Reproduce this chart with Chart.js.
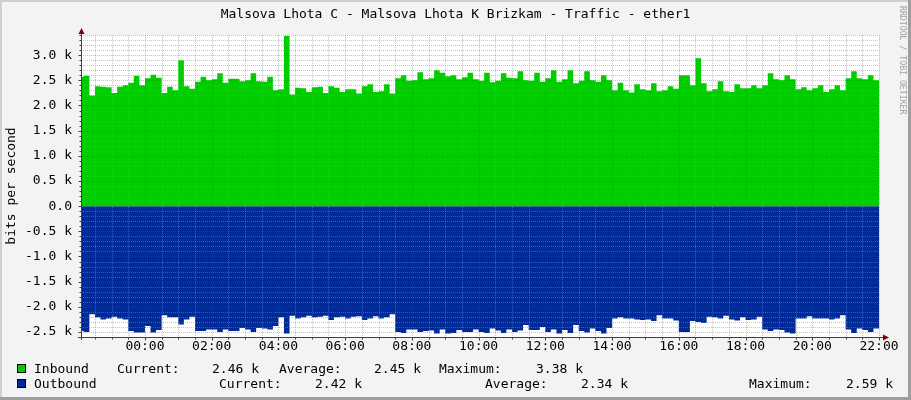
<!DOCTYPE html>
<html>
<head>
<meta charset="utf-8">
<title>Malsova Lhota C - Traffic - ether1</title>
<script src="https://cdn.jsdelivr.net/npm/chart.js@4.4.1/dist/chart.umd.min.js"></script>
<style>
  html, body { margin: 0; padding: 0; background: #f3f3f3; }
  #chart { display: block; }
</style>
</head>
<body>
<canvas id="chart" width="911" height="400"></canvas>
<script>
// traffic in k bits/s, one value per 10 minutes, ending 22:00
const inbound = [
  2.57, 2.57, 2.59, 2.20, 2.38, 2.37, 2.36, 2.25, 2.37, 2.40, 2.45, 2.59, 2.40, 2.54, 2.61, 2.55,
  2.25, 2.37, 2.30, 2.90, 2.38, 2.33, 2.47, 2.57, 2.50, 2.52, 2.64, 2.45, 2.53, 2.53, 2.48, 2.50,
  2.64, 2.48, 2.47, 2.57, 2.30, 2.32, 3.38, 2.22, 2.35, 2.34, 2.27, 2.36, 2.37, 2.25, 2.38, 2.35,
  2.27, 2.32, 2.32, 2.24, 2.38, 2.42, 2.27, 2.28, 2.42, 2.24, 2.54, 2.60, 2.49, 2.50, 2.66, 2.52,
  2.54, 2.70, 2.65, 2.58, 2.60, 2.52, 2.56, 2.65, 2.52, 2.49, 2.65, 2.46, 2.49, 2.64, 2.55, 2.54,
  2.68, 2.50, 2.49, 2.65, 2.47, 2.54, 2.70, 2.47, 2.52, 2.70, 2.44, 2.49, 2.68, 2.50, 2.47, 2.60,
  2.50, 2.30, 2.45, 2.30, 2.26, 2.42, 2.32, 2.30, 2.44, 2.28, 2.30, 2.38, 2.33, 2.60, 2.60, 2.40,
  2.94, 2.44, 2.28, 2.32, 2.48, 2.28, 2.27, 2.42, 2.34, 2.34, 2.40, 2.34, 2.40, 2.64, 2.52, 2.50,
  2.60, 2.52, 2.32, 2.36, 2.30, 2.34, 2.40, 2.27, 2.32, 2.40, 2.30, 2.54, 2.68, 2.54, 2.52, 2.60,
  2.50
];
const outbound = [
  2.48, 2.48, 2.50, 2.15, 2.21, 2.25, 2.23, 2.20, 2.23, 2.25, 2.48, 2.51, 2.51, 2.38, 2.51, 2.46,
  2.17, 2.21, 2.21, 2.35, 2.25, 2.20, 2.48, 2.48, 2.45, 2.45, 2.50, 2.45, 2.48, 2.48, 2.42, 2.45,
  2.50, 2.42, 2.43, 2.45, 2.38, 2.21, 2.53, 2.18, 2.23, 2.21, 2.18, 2.21, 2.20, 2.18, 2.26, 2.21,
  2.20, 2.23, 2.20, 2.19, 2.26, 2.23, 2.19, 2.23, 2.21, 2.15, 2.50, 2.52, 2.45, 2.45, 2.50, 2.48,
  2.47, 2.53, 2.45, 2.53, 2.52, 2.46, 2.50, 2.50, 2.45, 2.50, 2.52, 2.43, 2.47, 2.52, 2.45, 2.50,
  2.47, 2.36, 2.46, 2.46, 2.40, 2.50, 2.45, 2.53, 2.46, 2.52, 2.36, 2.48, 2.51, 2.43, 2.48, 2.53,
  2.42, 2.23, 2.21, 2.23, 2.23, 2.25, 2.26, 2.25, 2.28, 2.17, 2.23, 2.23, 2.27, 2.50, 2.50, 2.28,
  2.30, 2.32, 2.20, 2.21, 2.23, 2.18, 2.25, 2.27, 2.21, 2.26, 2.25, 2.20, 2.45, 2.48, 2.45, 2.46,
  2.51, 2.53, 2.23, 2.23, 2.19, 2.23, 2.23, 2.23, 2.25, 2.23, 2.17, 2.45, 2.52, 2.43, 2.46, 2.50,
  2.43
];
// minutes relative to 00:00
const times = inbound.map((v, i) => -120 + 10 * i);

const xTickValues = [0, 120, 240, 360, 480, 600, 720, 840, 960, 1080, 1200, 1320];
const xTickLabels = ["00:00", "02:00", "04:00", "06:00", "08:00", "10:00",
  "12:00", "14:00", "16:00", "18:00", "20:00", "22:00"];
const yTickValues = [-2.5, -2, -1.5, -1, -0.5, 0, 0.5, 1, 1.5, 2, 2.5, 3];

const inboundStats = ["2.46 k", "2.45 k", "3.38 k"];
const outboundStats = ["2.42 k", "2.34 k", "2.59 k"];

const titleText = "Malsova Lhota C - Malsova Lhota K Brizkam - Traffic - ether1";
const FONT = '"DejaVu Sans Mono", monospace';
const GREEN = "#00cc00";
const BLUE = "#002a97";

function line(ctx, x0, y0, x1, y1) {
  ctx.beginPath();
  ctx.moveTo(x0, y0);
  ctx.lineTo(x1, y1);
  ctx.stroke();
}

const rrdDecor = {
  id: "rrdDecor",
  beforeDraw(chart) {
    const { ctx, chartArea: a, width, height } = chart;
    ctx.save();
    ctx.fillStyle = "#f3f3f3";
    ctx.fillRect(0, 0, width, height);
    ctx.fillStyle = "#ffffff";
    ctx.fillRect(a.left, a.top, a.right - a.left, a.bottom - a.top);
    ctx.fillStyle = "#cfcfcf";
    ctx.fillRect(0, 0, width, 2);
    ctx.fillRect(0, 0, 2, height);
    ctx.fillStyle = "#9e9e9e";
    ctx.fillRect(0, height - 3, width, 3);
    ctx.fillRect(width - 3, 0, 3, height);
    ctx.restore();
  },
  afterDatasetsDraw(chart) {
    const { ctx, chartArea: a } = chart;
    const xs = chart.scales.x, ys = chart.scales.y;
    ctx.save();
    ctx.lineWidth = 1;
    ctx.setLineDash([1, 1]);

    // minor grid
    ctx.strokeStyle = "rgba(140,140,140,0.5)";
    for (let t = -90; t <= 1320; t += 30) {
      if (t % 120 === 0) continue;
      const px = Math.round(xs.getPixelForValue(t)) + 0.5;
      line(ctx, px, a.top, px, a.bottom);
    }
    for (let k = -26; k <= 34; k++) {
      if (k % 5 === 0) continue;
      const py = Math.round(ys.getPixelForValue(k / 10)) + 0.5;
      line(ctx, a.left, py, a.right, py);
    }
    // major grid
    ctx.strokeStyle = "rgba(255,0,0,0.35)";
    xTickValues.forEach(t => {
      const px = Math.round(xs.getPixelForValue(t)) + 0.5;
      line(ctx, px, a.top, px, a.bottom);
    });
    yTickValues.forEach(v => {
      const py = Math.round(ys.getPixelForValue(v)) + 0.5;
      line(ctx, a.left, py, a.right, py);
    });

    // axes and tick marks
    ctx.setLineDash([]);
    ctx.strokeStyle = "#404040";
    const ax = Math.round(a.left) + 0.5;
    const ay = Math.round(a.bottom) + 0.5;
    line(ctx, a.left - 3, ay, a.right + 7, ay);
    line(ctx, ax, a.bottom + 3, ax, a.top - 4);
    for (let t = -90; t <= 1320; t += 30) {
      const px = Math.round(xs.getPixelForValue(t)) + 0.5;
      line(ctx, px, ay, px, ay + (t % 120 === 0 ? 3 : 2));
    }
    for (let k = -25; k <= 34; k++) {
      const py = Math.round(ys.getPixelForValue(k / 10)) + 0.5;
      line(ctx, ax, py, ax - (k % 5 === 0 ? 3 : 2), py);
    }

    // arrows
    ctx.fillStyle = "#7f0000";
    ctx.beginPath();
    ctx.moveTo(ax, a.top - 7);
    ctx.lineTo(ax - 3, a.top - 1);
    ctx.lineTo(ax + 3, a.top - 1);
    ctx.closePath();
    ctx.fill();
    ctx.beginPath();
    ctx.moveTo(a.right + 10, ay);
    ctx.lineTo(a.right + 4, ay - 3);
    ctx.lineTo(a.right + 4, ay + 3);
    ctx.closePath();
    ctx.fill();
    ctx.restore();
  },
  afterDraw(chart) {
    const { ctx } = chart;
    ctx.save();
    ctx.fillStyle = "#000";
    ctx.font = "13px " + FONT;
    ctx.textBaseline = "alphabetic";
    ctx.textAlign = "center";
    ctx.fillText(titleText, 455.5, 18);

    // y axis title
    ctx.save();
    ctx.translate(14.5, 186);
    ctx.rotate(-Math.PI / 2);
    ctx.fillText("bits per second", 0, 0);
    ctx.restore();

    // watermark
    ctx.save();
    ctx.fillStyle = "#a0a0a0";
    ctx.font = "8.2px " + FONT;
    ctx.textAlign = "left";
    ctx.translate(900, 6);
    ctx.rotate(Math.PI / 2);
    ctx.fillText("RRDTOOL / TOBI OETIKER", 0, 0);
    ctx.restore();

    // legend
    const rows = [
      { color: GREEN, box: 364, base: 373, items: [[34, "Inbound"], [117, "Current:"], [212, inboundStats[0]],
        [279, "Average:"], [374, inboundStats[1]], [439, "Maximum:"], [536, inboundStats[2]]] },
      { color: BLUE, box: 379, base: 388, items: [[34, "Outbound"], [219, "Current:"], [315, outboundStats[0]],
        [485, "Average:"], [581, outboundStats[1]], [749, "Maximum:"], [846, outboundStats[2]]] }
    ];
    ctx.textAlign = "left";
    ctx.lineWidth = 1;
    rows.forEach(r => {
      ctx.fillStyle = r.color;
      ctx.fillRect(17, r.box, 9, 9);
      ctx.strokeStyle = "#000";
      ctx.strokeRect(17.5, r.box + 0.5, 8, 8);
      ctx.fillStyle = "#000";
      r.items.forEach(([x, s]) => ctx.fillText(s, x, r.base));
    });
    ctx.restore();
  }
};

const ctx = document.getElementById("chart").getContext("2d");

new Chart(ctx, {
  type: "line",
  data: {
    datasets: [
      {
        label: "Inbound",
        data: inbound.map((v, i) => ({ x: times[i], y: v })),
        backgroundColor: GREEN,
        borderColor: GREEN,
        borderWidth: 0,
        pointRadius: 0,
        stepped: "after",
        fill: "origin",
      },
      {
        label: "Outbound",
        data: outbound.map((v, i) => ({ x: times[i], y: -v })),
        backgroundColor: BLUE,
        borderColor: BLUE,
        borderWidth: 0,
        pointRadius: 0,
        stepped: "after",
        fill: "origin",
      },
    ],
  },
  options: {
    responsive: false,
    animation: false,
    devicePixelRatio: 1,
    layout: { padding: { left: 0, top: 35, right: 32, bottom: 0 } },
    scales: {
      x: {
        type: "linear",
        min: -115,
        max: 1320,
        grid: { display: false, drawTicks: false },
        border: { display: false },
        afterBuildTicks: (scale) => {
          scale.ticks = xTickValues.map(v => ({ value: v }));
        },
        afterFit: (scale) => {
          scale.height = 63;
          scale.paddingLeft = 0;
          scale.paddingRight = 0;
        },
        ticks: {
          autoSkip: false,
          maxRotation: 0,
          padding: 2,
          color: "#000",
          font: { family: FONT, size: 13 },
          callback: (v, i) => xTickLabels[i],
        },
      },
      y: {
        min: -2.6,
        max: 3.4,
        grid: { display: false, drawTicks: false },
        border: { display: false },
        afterBuildTicks: (scale) => {
          scale.ticks = yTickValues.map(v => ({ value: v }));
        },
        afterFit: (scale) => {
          scale.width = 81;
          scale.paddingTop = 0;
          scale.paddingBottom = 0;
        },
        ticks: {
          padding: 9,
          color: "#000",
          font: { family: FONT, size: 13 },
          callback: (v) => (v === 0 ? "0.0" : v.toFixed(1) + " k"),
        },
      },
    },
    plugins: {
      legend: { display: false },
      tooltip: { enabled: false },
    },
  },
  plugins: [rrdDecor],
});
</script>
</body>
</html>
